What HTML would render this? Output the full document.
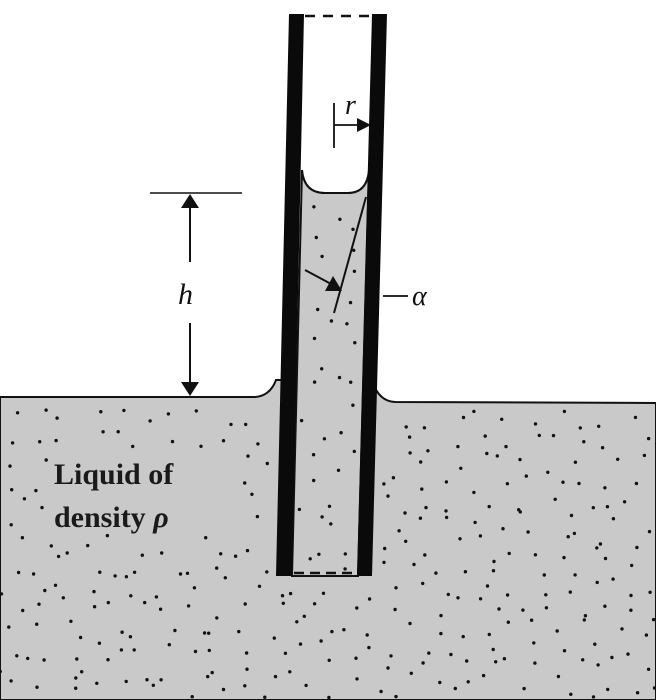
<!DOCTYPE html>
<html><head><meta charset="utf-8"><style>
html,body{margin:0;padding:0;background:#fff;}
svg{display:block;}
</style></head><body>
<svg id="fig" width="656" height="700" viewBox="0 0 656 700" xmlns="http://www.w3.org/2000/svg">
<!-- reservoir liquid -->
<path d="M0,397 L255,397 Q270,396 276,380 L292,380 L292,576 L358,576 L358,380 L372,380 Q378,401 395,402 L656,403 L656,700 L0,700 Z" fill="#c9c9c9" stroke="#111" stroke-width="2"/>
<!-- liquid in tube -->
<path d="M302,170 Q304,193 325,193 L348,193 Q367,193 369,170 L358,576 L292,576 Z" fill="#c9c9c9" stroke="#111" stroke-width="2"/>
<g id="dots" fill="#111"></g>
<!-- tube walls -->
<polygon points="289,14 304,14 292,576 276,576" fill="#0a0a0a"/>
<polygon points="372,14 387,14 372,576 357,576" fill="#0a0a0a"/>
<line x1="305" y1="16" x2="371" y2="16" stroke="#111" stroke-width="2.5" stroke-dasharray="10,8"/>
<line x1="294" y1="573" x2="356" y2="573" stroke="#111" stroke-width="2.5" stroke-dasharray="10,6"/>
<!-- h dimension -->
<line x1="150" y1="193" x2="242" y2="193" stroke="#111" stroke-width="1.5"/>
<line x1="190" y1="200" x2="190" y2="262" stroke="#111" stroke-width="2"/>
<line x1="190" y1="323" x2="190" y2="390" stroke="#111" stroke-width="2"/>
<polygon points="190,194 181,208 199,208" fill="#111"/>
<polygon points="190,396 181,382 199,382" fill="#111"/>
<text x="178" y="304" font-family="Liberation Serif, serif" font-style="italic" font-size="30" fill="#111">h</text>
<!-- r marker -->
<line x1="334" y1="103" x2="334" y2="148" stroke="#111" stroke-width="1.8"/>
<line x1="334" y1="125" x2="362" y2="125" stroke="#111" stroke-width="1.8"/>
<polygon points="371,125 357,118 357,132" fill="#111"/>
<text x="345" y="114" font-family="Liberation Serif, serif" font-style="italic" font-size="28" fill="#111">r</text>
<!-- contact angle -->
<line x1="366" y1="197" x2="334" y2="313" stroke="#111" stroke-width="2"/>
<line x1="305" y1="270" x2="333" y2="285" stroke="#111" stroke-width="2"/>
<polygon points="342,291 325,291 333,276" fill="#111"/>
<line x1="383" y1="296" x2="408" y2="296" stroke="#111" stroke-width="1.8"/>
<text x="412" y="305" font-family="Liberation Serif, serif" font-style="italic" font-size="28" fill="#111">α</text>
<!-- label -->
<text x="54" y="484" font-family="Liberation Serif, serif" font-weight="bold" font-size="30" fill="#1a1a1a">Liquid of</text>
<text x="54" y="527" font-family="Liberation Serif, serif" font-weight="bold" font-size="30" fill="#1a1a1a">density <tspan font-style="italic">ρ</tspan></text>
</svg>
<script>
var g=document.getElementById('dots');
var s=123456789;function rnd(){s^=s<<13;s^=s>>>17;s^=s<<5;return ((s>>>0)%100000)/100000;}
function inText(x,y){return x>48&&x<222&&y>456&&y<535;}
function inWall(x,y){return x>268&&x<380&&y<582;}
var step=26;
for(var gy=410;gy<700;gy+=step*0.8){
 for(var gx=0;gx<656;gx+=step){
  var x=gx+rnd()*step,y=gy+rnd()*step*0.8;
  if(y>698||inText(x,y)||inWall(x,y))continue;
  var c=document.createElementNS('http://www.w3.org/2000/svg','circle');
  c.setAttribute('cx',x.toFixed(1));c.setAttribute('cy',y.toFixed(1));c.setAttribute('r','1.7');
  
  
  g.appendChild(c);
 }
}
for(var yy=205;yy<565;yy+=22){
 for(var k=0;k<2;k++){
  var y2=yy+rnd()*20;var t=(y2-172)/(576-172);
  var l=304-12*t+5,r=369-11*t-5;var x2=l+(k*0.5+rnd()*0.5)*(r-l);
  var d=document.createElementNS('http://www.w3.org/2000/svg','circle');
  d.setAttribute('cx',x2.toFixed(1));d.setAttribute('cy',y2.toFixed(1));d.setAttribute('r','1.7');
  
  
  g.appendChild(d);
 }
}
</script>
</body></html>
